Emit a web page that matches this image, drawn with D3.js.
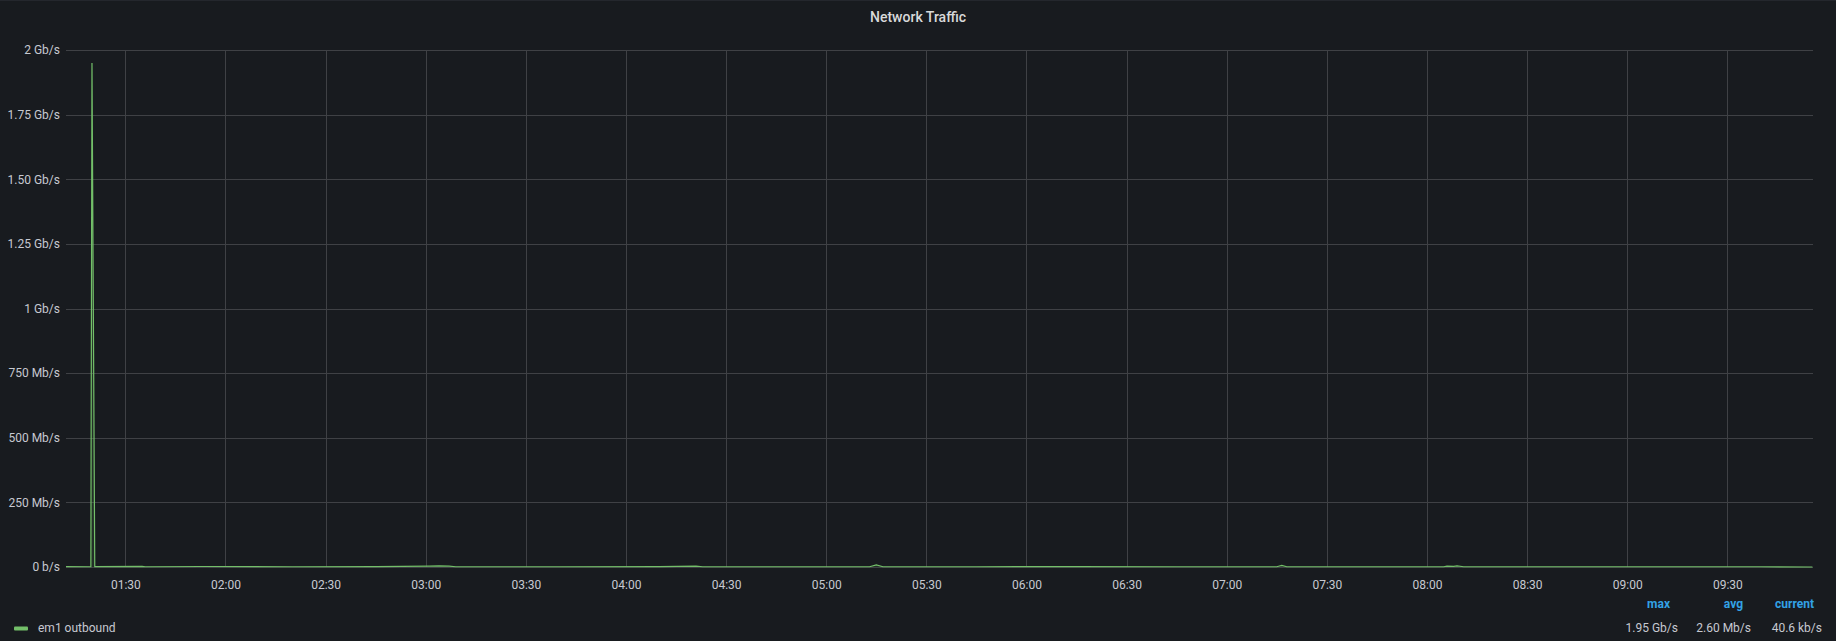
<!DOCTYPE html>
<html>
<head>
<meta charset="utf-8">
<script src="https://cdn.jsdelivr.net/npm/d3@7"></script>
<style>
  html, body { margin: 0; padding: 0; background: #181b1f; }
  svg { display: block; font-family: Roboto, "Noto Sans", sans-serif; }
</style>
</head>
<body>
<svg id="chart" width="1836" height="641"></svg>
<script>
// ---- data ----
const title = "Network Traffic";
const seriesName = "em1 outbound";
const day = "2021-01-01";
const times = ["01:12:13","01:19:40","01:20:00","01:20:50","01:35:00","01:36:00","01:53:00","02:20:00","02:45:00",
  "03:01:00","03:04:00","03:07:00","03:09:00","03:40:00","04:10:00","04:21:00","04:23:00","04:50:00","05:13:00",
  "05:15:00","05:17:00","05:45:00","06:15:00","06:45:00","07:15:00","07:16:30","07:18:00","07:45:00","08:05:00",
  "08:06:00","08:08:00","08:09:00","08:11:00","08:40:00","09:10:00","09:40:00","09:55:30"];
const outboundMbps = [1.2,1.0,1950,1.1,2.5,1.0,2.0,1.0,1.2,
  3.5,4.5,3.5,1.0,1.0,1.2,3.0,1.0,1.0,1.0,
  8.5,1.0,1.0,1.2,1.0,1.0,6.0,1.0,1.0,1.0,
  3.0,2.5,4.0,1.0,1.0,1.0,1.0,0.0406];
const yTickValues = [0, 250, 500, 750, 1000, 1250, 1500, 1750, 2000]; // Mb/s
const yTickLabels = ["0 b/s","250 Mb/s","500 Mb/s","750 Mb/s","1 Gb/s","1.25 Gb/s","1.50 Gb/s","1.75 Gb/s","2 Gb/s"];
const xTickLabels = ["01:30","02:00","02:30","03:00","03:30","04:00","04:30","05:00","05:30","06:00","06:30",
  "07:00","07:30","08:00","08:30","09:00","09:30"];
const domainStart = "01:12:13", domainEnd = "09:55:40";
const legendHeaders = ["max","avg","current"];
const legendValues = ["1.95 Gb/s","2.60 Mb/s","40.6 kb/s"];

// ---- drawing ----
const parse = d3.timeParse("%Y-%m-%d %H:%M:%S");
const toDate = s => parse(day + " " + (s.length === 5 ? s + ":00" : s));
const data = times.map((t, i) => ({ t: toDate(t), v: outboundMbps[i] }));

const W = 1836, H = 641;
const m = { left: 66, right: 1813, top: 50, bottom: 567 };
const svg = d3.select("#chart");
const FONT = "Roboto, sans-serif";

svg.append("rect").attr("width", W).attr("height", H).attr("fill", "#181b1f");
svg.append("rect").attr("width", W).attr("height", 1).attr("fill", "#24272d");

const x = d3.scaleTime().domain([toDate(domainStart), toDate(domainEnd)]).range([m.left, m.right]);
const y = d3.scaleLinear().domain([0, 2000]).range([m.bottom, m.top]);

const gridColor = "#3f4145";
const textColor = "#c7c9d1";

// horizontal grid + y labels
const yAxis = d3.axisLeft(y).tickValues(yTickValues).tickSize(0)
  .tickFormat((d, i) => yTickLabels[i]).tickPadding(6);
const gy = svg.append("g").attr("transform", `translate(${m.left},0)`).call(yAxis);
gy.select(".domain").remove();
gy.selectAll("text").attr("fill", textColor).attr("font-size", 12).attr("font-family", FONT);
svg.append("g").selectAll("line").data(yTickValues).join("line")
  .attr("x1", m.left).attr("x2", m.right)
  .attr("y1", d => Math.round(y(d)) + 0.5).attr("y2", d => Math.round(y(d)) + 0.5)
  .attr("stroke", gridColor).attr("stroke-width", 1);

// vertical grid + x labels
const xTicks = xTickLabels.map(toDate);
const xAxis = d3.axisBottom(x).tickValues(xTicks).tickSize(0)
  .tickFormat((d, i) => xTickLabels[i]).tickPadding(13);
const gx = svg.append("g").attr("transform", `translate(0,${m.bottom})`).call(xAxis);
gx.select(".domain").remove();
gx.selectAll("text").attr("fill", textColor).attr("font-size", 12).attr("font-family", FONT);
svg.append("g").selectAll("line").data(xTicks).join("line")
  .attr("x1", d => Math.round(x(d)) + 0.5).attr("x2", d => Math.round(x(d)) + 0.5)
  .attr("y1", m.top).attr("y2", m.bottom)
  .attr("stroke", gridColor).attr("stroke-width", 1);

// series
const green = "#73bf69";
const area = d3.area().x(d => x(d.t)).y0(y(0)).y1(d => y(d.v));
const line = d3.line().x(d => x(d.t)).y(d => y(d.v));
svg.append("path").datum(data).attr("d", area).attr("fill", green).attr("fill-opacity", 0.12);
svg.append("path").datum(data).attr("d", line).attr("fill", "none")
  .attr("stroke", green).attr("stroke-width", 1.2);

// title
svg.append("text").attr("x", W / 2).attr("y", 21.5).attr("text-anchor", "middle")
  .attr("fill", "#d8d9da").attr("font-size", 14).attr("font-weight", 500).text(title);

// legend
svg.append("rect").attr("x", 14).attr("y", 626.5).attr("width", 14).attr("height", 4)
  .attr("rx", 1).attr("fill", green);
svg.append("text").attr("x", 38).attr("y", 632).attr("fill", textColor)
  .attr("font-size", 12).text(seriesName);

const colRight = [1678, 1751, 1822];
legendHeaders.forEach((h, i) => {
  svg.append("text").attr("x", colRight[i] - 8).attr("y", 608).attr("text-anchor", "end")
    .attr("fill", "#33a2e5").attr("font-size", 12).attr("font-weight", 700).text(h);
  svg.append("text").attr("x", colRight[i]).attr("y", 632).attr("text-anchor", "end")
    .attr("fill", textColor).attr("font-size", 12).text(legendValues[i]);
});
</script>
</body>
</html>
